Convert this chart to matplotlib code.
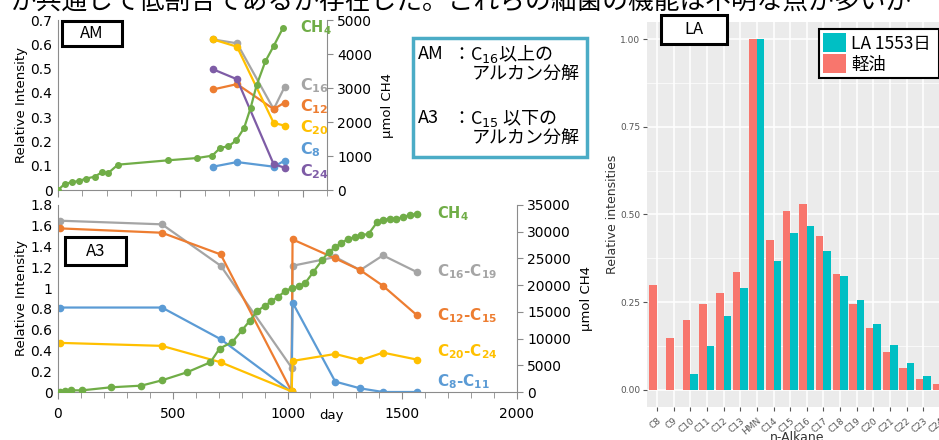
import numpy as np
import matplotlib
matplotlib.use("Agg")
import matplotlib.pyplot as plt
from matplotlib.patches import Rectangle, Patch

plt.rcParams['font.family'] = ['DejaVu Sans', 'Noto Sans CJK JP']
plt.rcParams['mathtext.fontset'] = 'dejavusans'
JP = ['Noto Sans CJK JP', 'DejaVu Sans']

# ---- AM panel data (day, relative intensity / umol CH4)
am_ch4_day = [0, 27, 59, 86, 113, 150, 181, 204, 245, 450, 570, 631, 664, 697,
              729, 761, 788, 812, 848, 882, 920]
am_ch4 = [0, 176, 235, 265, 333, 392, 529, 490, 745, 873, 941, 1010, 1245, 1284,
          1461, 1824, 2422, 3078, 3784, 4235, 4765]
am_day = [634, 732, 882, 927]
am_c16 = [0.620, 0.604, 0.333, 0.425]
am_c12 = [0.414, 0.436, 0.333, 0.360]
am_c20 = [0.620, 0.590, 0.276, 0.265]
am_c8 = [0.096, 0.115, 0.096, 0.121]
am_c24 = [0.497, 0.456, 0.106, 0.092]

# ---- A3 panel data
a3_ch4_day = [7, 29, 58, 106, 229, 363, 453, 562, 664, 704, 760, 802, 835, 869,
              900, 930, 959, 988, 1020, 1049, 1078, 1111, 1150, 1179, 1208, 1235,
              1264, 1293, 1322, 1354, 1390, 1416, 1445, 1474, 1503, 1532, 1564]
a3_ch4 = [0, 125, 312, 312, 875, 1188, 2188, 3688, 5563, 8125, 9375, 11563, 13313,
          15188, 16063, 17000, 17813, 18813, 19500, 19750, 20438, 22375, 24625,
          26188, 27063, 27938, 28625, 29000, 29313, 29625, 31750, 32250, 32375,
          32438, 32688, 33125, 33313]
a3_day = [7, 453, 709, 1018, 1022, 1208, 1317, 1416, 1564]
a3_c16_19 = [1.649, 1.614, 1.215, 0.235, 1.215, 1.299, 1.173, 1.315, 1.154]
a3_c12_15 = [1.575, 1.533, 1.324, 0.005, 1.469, 1.286, 1.173, 1.022, 0.739]
a3_c8_11 = [0.813, 0.813, 0.508, 0.0, 0.861, 0.100, 0.035, 0.0, 0.0]
a3_c20_24 = [0.473, 0.444, 0.286, 0.006, 0.299, 0.366, 0.305, 0.379, 0.312]

# ---- LA panel data
la_cats = ['C8', 'C9', 'C10', 'C11', 'C12', 'C13', 'HMN', 'C14', 'C15', 'C16',
           'C17', 'C18', 'C19', 'C20', 'C21', 'C22', 'C23', 'C24']
la_diesel = [0.298, 0.148, 0.200, 0.245, 0.276, 0.336, 1.0, 0.428, 0.510, 0.529,
             0.438, 0.329, 0.245, 0.177, 0.107, 0.062, 0.029, 0.016]
la_1553 = [0, 0, 0.045, 0.123, 0.210, 0.290, 1.0, 0.366, 0.446, 0.468, 0.396,
           0.324, 0.255, 0.188, 0.128, 0.076, 0.040, 0.018]

GREEN, GRAY, ORANGE = '#70AD47', '#A5A5A5', '#ED7D31'
YELLOW, BLUE, PURPLE = '#FFC000', '#5B9BD5', '#7E5CA6'
AXC = '#8C8C8C'

W, H = 939, 440
fig = plt.figure(figsize=(W / 100, H / 100), dpi=100)


def fx(px):
    return px / W


def fy(py):
    return 1 - py / H


def box_label(x0, y0, x1, y1, text):
    fig.patches.append(Rectangle((fx(x0), fy(y1)), (x1 - x0) / W, (y1 - y0) / H,
                                 transform=fig.transFigure, facecolor='white',
                                 edgecolor='black', lw=2.2, zorder=5))
    fig.text(fx((x0 + x1) / 2), fy((y0 + y1) / 2), text, ha='center', va='center',
             fontsize=12, family=JP, zorder=6)


def excel_axes(ax, ax2):
    for a in (ax, ax2):
        a.spines['top'].set_visible(False)
        for s in ('left', 'right', 'bottom'):
            a.spines[s].set_color(AXC)
    ax.spines['right'].set_visible(False)
    ax2.spines['left'].set_visible(False)
    ax2.spines['bottom'].set_visible(False)
    ax.tick_params(axis='y', length=0, labelsize=10, pad=4)
    ax.tick_params(axis='x', which='both', direction='out', color=AXC, labelsize=10)
    ax.tick_params(axis='x', which='major', length=5)
    ax.tick_params(axis='x', which='minor', length=4)
    ax2.tick_params(axis='y', direction='out', length=4, color=AXC, labelsize=10)


# headline (cut off at top)
fig.text(fx(10), fy(10), 'が共通して低割合であるか存在した。これらの細菌の機能は不明な点が多いが',
         fontsize=18.5, family=JP, va='baseline', ha='left')

# ================= AM =================
ax = fig.add_axes([fx(58), fy(190), (327 - 58) / W, (190 - 20) / H])
ax2 = ax.twinx()
lk = dict(lw=1.6, marker='o', ms=4.5)
ax.plot(am_day, am_c16, color=GRAY, **lk)
ax.plot(am_day, am_c12, color=ORANGE, **lk)
ax.plot(am_day, am_c20, color=YELLOW, **lk)
ax.plot(am_day, am_c8, color=BLUE, **lk)
ax.plot(am_day, am_c24, color=PURPLE, **lk)
ax2.plot(am_ch4_day, am_ch4, color=GREEN, lw=1.6, marker='o', ms=4)
ax.set_xlim(0, 1100)
ax.set_ylim(0, 0.7)
ax2.set_ylim(0, 5000)
ax.set_xticks([0, 500, 1000])
ax.set_xticks(np.arange(0, 1101, 100), minor=True)
ax.set_xticklabels([])
ax.set_yticks(np.arange(0, 0.71, 0.1))
ax.set_yticklabels(['0'] + ['%.1f' % v for v in np.arange(0.1, 0.71, 0.1)])
ax2.set_yticks(np.arange(0, 5001, 1000))
excel_axes(ax, ax2)
ax.set_ylabel('Relative Intensity', fontsize=9.5, labelpad=2)
ax2.set_ylabel('μmol CH4', fontsize=9.5, labelpad=6)
ax.patch.set_visible(False)

fig.text(fx(300), fy(28), r'$\mathbf{CH_4}$', color=GREEN, fontsize=10.5, va='center')
for txt, col, py in [(r'$\mathbf{C_{16}}$', GRAY, 86), (r'$\mathbf{C_{12}}$', ORANGE, 107),
                     (r'$\mathbf{C_{20}}$', YELLOW, 128), (r'$\mathbf{C_{8}}$', BLUE, 150),
                     (r'$\mathbf{C_{24}}$', PURPLE, 172)]:
    fig.text(fx(300), fy(py), txt, color=col, fontsize=11.5, va='center')
box_label(62, 21, 122, 46, 'AM')

# ================= A3 =================
bx = fig.add_axes([fx(58), fy(392), (517 - 58) / W, (392 - 205) / H])
bx2 = bx.twinx()
bx.plot(a3_day, a3_c16_19, color=GRAY, **lk)
bx.plot(a3_day, a3_c12_15, color=ORANGE, **lk)
bx.plot(a3_day, a3_c8_11, color=BLUE, **lk)
bx.plot(a3_day, a3_c20_24, color=YELLOW, **lk)
bx2.plot(a3_ch4_day, a3_ch4, color=GREEN, lw=1.6, marker='o', ms=4.5)
bx.set_xlim(0, 2000)
bx.set_ylim(0, 1.8)
bx2.set_ylim(0, 35000)
bx.set_xticks([0, 500, 1000, 1500, 2000])
bx.set_xticks(np.arange(0, 2001, 100), minor=True)
bx.set_yticks(np.arange(0, 1.81, 0.2))
bx.set_yticklabels(['0', '0.2', '0.4', '0.6', '0.8', '1', '1.2', '1.4', '1.6', '1.8'])
bx2.set_yticks(np.arange(0, 35001, 5000))
excel_axes(bx, bx2)
bx.tick_params(axis='x', pad=6)
bx.set_ylabel('Relative Intensity', fontsize=9.5, labelpad=2)
bx2.set_ylabel('μmol CH4', fontsize=9.5, labelpad=6)
bx.patch.set_visible(False)
fig.text(fx(332), fy(415), 'day', fontsize=9.5, ha='center', va='center')

fig.text(fx(437), fy(214), r'$\mathbf{CH_4}$', color=GREEN, fontsize=10.5, va='center')
for txt, col, py in [(r'$\mathbf{C_{16}}$-$\mathbf{C_{19}}$', GRAY, 272),
                     (r'$\mathbf{C_{12}}$-$\mathbf{C_{15}}$', ORANGE, 316),
                     (r'$\mathbf{C_{20}}$-$\mathbf{C_{24}}$', YELLOW, 352),
                     (r'$\mathbf{C_{8}}$-$\mathbf{C_{11}}$', BLUE, 382)]:
    fig.text(fx(437), fy(py), txt, color=col, fontsize=11, fontweight='bold', va='center')
box_label(65, 237, 126, 265, 'A3')

# ================= text box =================
fig.patches.append(Rectangle((fx(413), fy(157)), (587 - 413) / W, (157 - 38) / H,
                             transform=fig.transFigure, facecolor='white',
                             edgecolor='#4BACC6', lw=2.5, zorder=1))
tk = dict(fontsize=13, family=JP, va='center')
fig.text(fx(418), fy(54), 'AM', **tk)
fig.text(fx(452), fy(54), '：C$_{16}$以上の', **tk)
fig.text(fx(472), fy(75), 'アルカン分解', **tk)
fig.text(fx(418), fy(118), 'A3', **tk)
fig.text(fx(452), fy(118), '：C$_{15}$ 以下の', **tk)
fig.text(fx(472), fy(139), 'アルカン分解', **tk)

# ================= LA (ggplot style) =================
cx = fig.add_axes([fx(647), fy(407), (950 - 647) / W, (407 - 22) / H])
cx.set_facecolor('#EBEBEB')
xpos = np.arange(len(la_cats))
cx.bar(xpos - 0.225, la_diesel, width=0.45, color='#F8766D', zorder=3)
cx.bar(xpos + 0.225, la_1553, width=0.45, color='#00BFC4', zorder=3)
cx.set_xlim(-0.6, len(la_cats) - 0.4)
cx.set_ylim(-0.05, 1.05)
cx.set_yticks([0, 0.25, 0.5, 0.75, 1.0])
cx.set_yticklabels(['0.00', '0.25', '0.50', '0.75', '1.00'])
cx.set_yticks([0.125, 0.375, 0.625, 0.875], minor=True)
cx.set_xticks(xpos)
cx.set_xticklabels(la_cats, rotation=40, ha='right', va='top', rotation_mode='anchor')
cx.grid(True, which='major', color='white', lw=1.1, zorder=0)
cx.grid(True, which='minor', axis='y', color='white', lw=0.5, zorder=0)
for s in cx.spines.values():
    s.set_visible(False)
cx.tick_params(axis='both', which='major', length=3, color='#555555',
               labelcolor='#555555', labelsize=6.5)
cx.tick_params(axis='y', which='major', pad=2)
cx.tick_params(axis='y', which='minor', length=0)
fig.text(fx(612), fy(214), 'Relative intensities', rotation=90, fontsize=9,
         color='#333333', ha='center', va='center')
fig.text(fx(797), fy(437), 'n-Alkane', fontsize=9, color='#333333', ha='center', va='center')

box_label(661, 15, 727, 44, 'LA')
leg = fig.legend([Patch(facecolor='#00BFC4'), Patch(facecolor='#F8766D')],
                 ['LA 1553日 ', '軽油'], loc='upper left',
                 bbox_to_anchor=(fx(819), fy(29)), prop={'family': JP, 'size': 12.5},
                 fancybox=False, edgecolor='black', framealpha=1,
                 handlelength=1.3, handleheight=1.3, handletextpad=0.3,
                 labelspacing=0.1, borderpad=0.25, borderaxespad=0)
leg.get_frame().set_linewidth(1.5)

fig.savefig('out.png', dpi=100)
